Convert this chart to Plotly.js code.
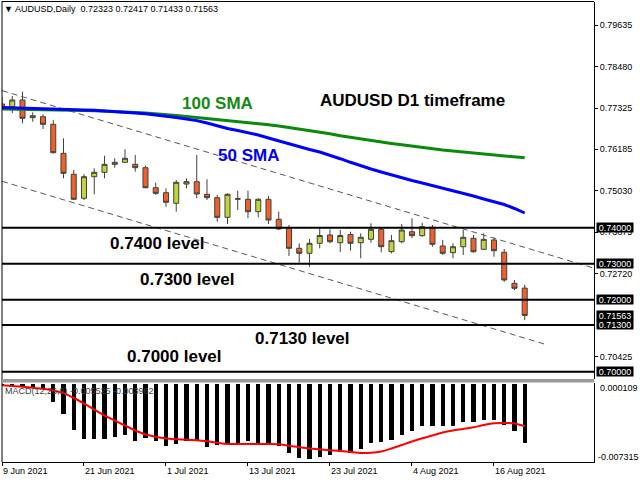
<!DOCTYPE html>
<html>
<head>
<meta charset="utf-8">
<script src="https://cdn.plot.ly/plotly-3.0.1.min.js"></script>
<style>html,body{margin:0;padding:0;background:#fff;}#chart{width:640px;height:480px;}</style>
</head>
<body>
<div id="chart"></div>
<script>
// ---- Data (AUDUSD Daily, 9 Jun 2021 - 19 Aug 2021) ----
const openP  = [0.77439,0.77364,0.77551,0.77059,0.77086,0.76875,0.76069,0.75486,0.74819,0.75419,0.75541,0.75763,0.75819,0.75763,0.75669,0.75113,
                0.74974,0.74680,0.75216,0.75280,0.74930,0.74835,0.74290,0.74791,0.74791,0.74446,0.74791,0.74235,0.74007,0.73429,0.73290,0.73568,
                0.73799,0.73584,0.73812,0.73584,0.73679,0.73957,0.73334,0.73612,0.73890,0.73779,0.74013,0.73493,0.73307,0.73473,0.73707,0.73401,
                0.73660,0.73318,0.72456,0.72323];
const highP  = [0.77634,0.77662,0.77781,0.77209,0.77153,0.76995,0.76486,0.75605,0.75486,0.75652,0.76002,0.75930,0.76180,0.76022,0.75725,0.75252,
                0.75097,0.75327,0.75374,0.76022,0.75347,0.74910,0.74957,0.75030,0.75030,0.74819,0.74882,0.74446,0.74076,0.73568,0.73687,0.73985,
                0.73957,0.73937,0.73890,0.73846,0.74124,0.73985,0.73799,0.74104,0.74263,0.74140,0.74076,0.73660,0.73568,0.73937,0.73799,0.73846,
                0.73735,0.73409,0.72548,0.72417];
const lowP   = [0.77273,0.77189,0.76903,0.76947,0.76745,0.76064,0.75374,0.74777,0.74771,0.74930,0.75374,0.75669,0.75800,0.75558,0.75097,0.74910,
                0.74585,0.74446,0.75097,0.74819,0.74771,0.74168,0.74104,0.74493,0.74263,0.74290,0.74104,0.73937,0.73215,0.73028,0.72917,0.73429,
                0.73568,0.73326,0.73362,0.73151,0.73584,0.73318,0.73290,0.73568,0.73707,0.73751,0.73473,0.73243,0.73151,0.73243,0.73307,0.73386,
                0.73195,0.72500,0.72270,0.71433];
const closeP = [0.77328,0.77551,0.77042,0.77114,0.76875,0.76086,0.75513,0.74791,0.75419,0.75541,0.75763,0.75819,0.75930,0.75669,0.75113,0.74957,
                0.74707,0.75263,0.75280,0.74938,0.74835,0.74290,0.74930,0.74807,0.74446,0.74791,0.74215,0.73965,0.73429,0.73290,0.73568,0.73785,
                0.73612,0.73785,0.73568,0.73735,0.73957,0.73473,0.73640,0.73937,0.73779,0.74029,0.73540,0.73290,0.73473,0.73735,0.73334,0.73679,
                0.73362,0.72548,0.72317,0.71563];
const sma50  = [0.77342,0.77336,0.77331,0.77325,0.77317,0.77311,0.77300,0.77286,0.77275,0.77264,0.77250,0.77231,0.77209,0.77189,0.77167,0.77139,
                0.77100,0.77061,0.77020,0.76978,0.76911,0.76828,0.76758,0.76703,0.76644,0.76578,0.76494,0.76411,0.76328,0.76244,0.76175,0.76105,
                0.76022,0.75919,0.75819,0.75716,0.75633,0.75549,0.75466,0.75397,0.75313,0.75244,0.75174,0.75105,0.75021,0.74952,0.74882,0.74799,
                0.74730,0.74646,0.74535,0.74410];
const sma100 = [0.77300,0.77298,0.77295,0.77292,0.77289,0.77287,0.77278,0.77270,0.77262,0.77253,0.77245,0.77231,0.77214,0.77200,0.77186,0.77170,
                0.77145,0.77120,0.77095,0.77067,0.77042,0.77014,0.76986,0.76956,0.76928,0.76903,0.76864,0.76825,0.76784,0.76745,0.76703,0.76653,
                0.76611,0.76558,0.76511,0.76464,0.76422,0.76383,0.76342,0.76305,0.76267,0.76228,0.76192,0.76164,0.76136,0.76108,0.76080,0.76053,
                0.76025,0.76000,0.75972,0.75944];
const macdMain = [-0.00019,-0.00019,-0.00023,-0.00028,-0.00037,-0.00171,-0.00281,-0.00431,-0.00512,-0.00512,-0.00512,-0.00499,-0.00475,-0.00531,-0.00506,-0.00537,
                  -0.00583,-0.00562,-0.00531,-0.00537,-0.00593,-0.00568,-0.00555,-0.00562,-0.00537,-0.00552,-0.00568,-0.00583,-0.00646,-0.00693,-0.00702,-0.00687,
                  -0.00668,-0.00637,-0.00646,-0.00606,-0.00552,-0.00543,-0.00521,-0.00475,-0.00443,-0.00396,-0.00396,-0.00396,-0.00396,-0.00359,-0.00359,-0.00334,
                  -0.00334,-0.00381,-0.00443,-0.005525];
const macdSignal = [-0.00012,-0.00019,-0.00026,-0.00036,-0.00044,-0.00061,-0.00086,-0.00131,-0.00183,-0.00239,-0.00295,-0.00342,-0.00389,-0.00435,-0.00473,-0.00494,
                    -0.00511,-0.00518,-0.00523,-0.00526,-0.00536,-0.00551,-0.00562,-0.00562,-0.00562,-0.00562,-0.00562,-0.00565,-0.00579,-0.00593,-0.00604,-0.00613,
                    -0.00621,-0.00627,-0.00637,-0.00646,-0.00644,-0.00632,-0.00604,-0.00571,-0.00538,-0.00508,-0.00482,-0.00454,-0.00435,-0.00421,-0.00405,-0.00384,
                    -0.00368,-0.00365,-0.00370,-0.00396];
const tickBars   = [0, 8, 16, 24, 32, 40, 48];
const tickLabels = ['9 Jun 2021','21 Jun 2021','1 Jul 2021','13 Jul 2021','23 Jul 2021','4 Aug 2021','16 Aug 2021'];
const priceTicks = [0.79635,0.78480,0.77325,0.76185,0.75030,0.73875,0.72720,0.70425];
const levels     = [0.74000,0.73000,0.72000,0.71300,0.70000];
const boxLabels  = [0.74000,0.73000,0.72000,0.71563,0.71300,0.70000];
const levelTexts = ['0.7400 level','0.7300 level','0.7130 level','0.7000 level'];
const chanUpperX = [0, 57.76], chanUpperY = [0.77812, 0.72876];
const chanLowerX = [0, 52.98], chanLowerY = [0.75291, 0.70763];
const macdRange  = [0.000109, -0.007315];

// ---- helpers (pixel -> paper) ----
const W = 640, H = 480;
const px = x => x / W;
const py = y => 1 - y / H;
const FONT = 'Liberation Sans, Arial, sans-serif';
const idx = openP.map((_, i) => i);

const traces = [
  { type:'scatter', mode:'lines', x: chanUpperX, y: chanUpperY, xaxis:'x', yaxis:'y',
    line:{color:'#5a5a5a', width:1, dash:'6px,4px'}, hoverinfo:'skip' },
  { type:'scatter', mode:'lines', x: chanLowerX, y: chanLowerY, xaxis:'x', yaxis:'y',
    line:{color:'#5a5a5a', width:1, dash:'6px,4px'}, hoverinfo:'skip' },
  { type:'scatter', mode:'lines', x: idx, y: sma100, xaxis:'x', yaxis:'y',
    line:{color:'#0a8a0a', width:3}, hoverinfo:'skip' },
  { type:'scatter', mode:'lines', x: idx, y: sma50, xaxis:'x', yaxis:'y',
    line:{color:'#0000ff', width:3}, hoverinfo:'skip' },
  { type:'candlestick', x: idx, open: openP, high: highP, low: lowP, close: closeP,
    xaxis:'x', yaxis:'y', whiskerwidth:0,
    increasing:{line:{color:'#404040', width:1}, fillcolor:'#c3d43a'},
    decreasing:{line:{color:'#404040', width:1}, fillcolor:'#f0602a'} },
  { type:'bar', x: idx, y: macdMain, xaxis:'x', yaxis:'y2', width:0.42,
    marker:{color:'#000000', line:{width:0}}, hoverinfo:'skip' },
  { type:'scatter', mode:'lines', x: idx, y: macdSignal, xaxis:'x', yaxis:'y2',
    line:{color:'#ff0000', width:2, shape:'spline'}, hoverinfo:'skip' }
];

const shapes = [];
levels.forEach(l => shapes.push({type:'line', xref:'paper', yref:'y', x0:px(2), x1:px(594), y0:l, y1:l,
  line:{color:'#000', width:2}}));
// frame
shapes.push({type:'line', xref:'paper', yref:'paper', x0:px(2), x1:px(594), y0:py(1.5), y1:py(1.5), line:{color:'#000', width:1}});
shapes.push({type:'line', xref:'paper', yref:'paper', x0:px(2), x1:px(2), y0:py(1), y1:py(462), line:{color:'#000', width:1}});
// panel separator
shapes.push({type:'rect', xref:'paper', yref:'paper', x0:px(2), x1:px(594), y0:py(379), y1:py(382.5),
  fillcolor:'#9a9a9a', line:{width:0}});

const annotations = [];
const txt = (text, x, y, opts={}) => Object.assign({text, xref:'paper', yref:'paper', x:px(x), y:py(y),
  showarrow:false, xanchor:'left', yanchor:'middle', font:{family:FONT, size:9, color:'#000'}}, opts);
annotations.push(txt('▼ AUDUSD,Daily&nbsp;&nbsp;0.72323 0.72417 0.71433 0.71563', 2, 9));
annotations.push(txt('MACD(12,26,9) -0.005525 -0.003962', 3, 391, {font:{family:FONT, size:9, color:'#404040'}}));
annotations.push(txt(macdRange[0].toFixed(6), 598, 388));
annotations.push(txt(macdRange[1].toFixed(6), 596, 457));
const bold = (text, x, y, color, anchor='center') => txt('<b>'+text+'</b>', x, y, {xanchor:anchor, font:{family:FONT, size:17, color}});
annotations.push(bold('100 SMA', 217, 103, '#138a13'));
annotations.push(bold('AUDUSD D1 timeframe', 412, 100, '#000'));
annotations.push(bold('50 SMA', 248, 155, '#0000ee'));
annotations.push(bold(levelTexts[0], 108, 243, '#000', 'left'));
annotations.push(bold(levelTexts[1], 138, 279, '#000', 'left'));
annotations.push(bold(levelTexts[2], 253, 338, '#000', 'left'));
annotations.push(bold(levelTexts[3], 125, 356, '#000', 'left'));
boxLabels.forEach(v => annotations.push({text: v.toFixed(5), xref:'paper', yref:'y', x:px(596), y:v,
  xanchor:'left', yanchor:'middle', showarrow:false, bgcolor:'#000', borderpad:0, height:9, width:36,
  font:{family:FONT, size:9, color:'#fff'}}));
tickBars.forEach((b, k) => annotations.push({text: tickLabels[k], xref:'x', yref:'paper', x:b, y:py(464),
  xanchor:'left', yanchor:'top', showarrow:false, xshift:-1, font:{family:FONT, size:9, color:'#000'}}));

const layout = {
  width: W, height: H, margin:{l:0, r:0, t:0, b:0}, paper_bgcolor:'#fff', plot_bgcolor:'#fff',
  showlegend:false, dragmode:false, bargap:0,
  xaxis:{domain:[px(2), px(594)], range:[0, 57.76], anchor:'y2', showgrid:false, zeroline:false,
    showline:true, linecolor:'#000', linewidth:1, ticks:'outside', ticklen:3, tickcolor:'#000',
    tickvals: tickBars, showticklabels:false, rangeslider:{visible:false}, fixedrange:true},
  yaxis:{domain:[py(379), py(2)], range:[0.697963, 0.802742], side:'right', anchor:'x',
    showgrid:false, zeroline:false, showline:true, linecolor:'#000', linewidth:1,
    ticks:'outside', ticklen:3, tickcolor:'#000', tickvals: priceTicks,
    ticktext: priceTicks.map(v => v.toFixed(5)), tickfont:{family:FONT, size:9, color:'#000'}, fixedrange:true},
  yaxis2:{domain:[py(462), py(383)], range:[-0.007304, 0.0000936], side:'right', anchor:'x',
    showgrid:false, zeroline:false, showline:true, linecolor:'#000', linewidth:1,
    showticklabels:false, ticks:'', fixedrange:true},
  shapes, annotations
};

Plotly.newPlot('chart', traces, layout, {staticPlot:true, displayModeBar:false});
</script>
</body>
</html>
